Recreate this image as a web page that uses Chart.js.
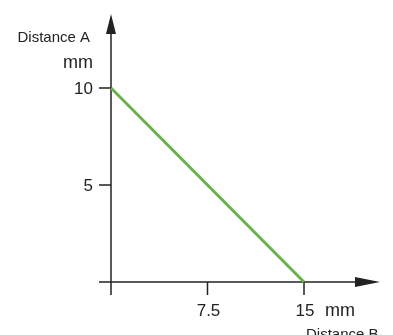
<!DOCTYPE html>
<html>
<head>
<meta charset="utf-8">
<script src="https://cdn.jsdelivr.net/npm/chart.js@4/dist/chart.umd.min.js"></script>
<style>
  html, body { margin: 0; padding: 0; background: #fff; }
  #wrap { width: 393px; height: 335px; }
</style>
</head>
<body>
<div id="wrap"><canvas id="chart"></canvas></div>
<script>
  // line data: Distance B (x) vs Distance A (y)
  const distB = [0, 15];
  const distA = [10, 0];
  const xTicks = [7.5, 15];
  const yTicks = [5, 10];
  const xTitle = `Distance B`;
  const yTitle = `Distance A`;
  const unit = `mm`;

  const axisColor = `#222`;
  const font = `"Liberation Sans", Arial, sans-serif`;

  // axes with arrows, ticks and labels, drawn on the chart's own scales
  const arrowAxes = {
    id: `arrowAxes`,
    beforeDatasetsDraw(chart) {
      const { ctx, scales } = chart;
      const x0 = scales.x.getPixelForValue(0);
      const y0 = scales.y.getPixelForValue(0);
      ctx.save();
      ctx.strokeStyle = axisColor;
      ctx.fillStyle = axisColor;
      ctx.lineWidth = 1.5;

      // y axis
      ctx.beginPath();
      ctx.moveTo(x0, y0 + 13);
      ctx.lineTo(x0, 30);
      ctx.stroke();
      ctx.beginPath();
      ctx.moveTo(x0, 14);
      ctx.lineTo(x0 - 5, 34);
      ctx.lineTo(x0 + 5, 34);
      ctx.closePath();
      ctx.fill();

      // x axis
      ctx.beginPath();
      ctx.moveTo(x0 - 12, y0);
      ctx.lineTo(360, y0);
      ctx.stroke();
      ctx.beginPath();
      ctx.moveTo(380, y0);
      ctx.lineTo(355, y0 - 5);
      ctx.lineTo(355, y0 + 5);
      ctx.closePath();
      ctx.fill();

      ctx.font = `17px ${font}`;
      ctx.textBaseline = `alphabetic`;

      // y ticks
      ctx.textAlign = `right`;
      yTicks.forEach((v) => {
        const py = scales.y.getPixelForValue(v);
        ctx.beginPath();
        ctx.moveTo(x0 - 12, py);
        ctx.lineTo(x0, py);
        ctx.stroke();
        ctx.fillText(String(v), x0 - 18, py + 6);
      });

      // x ticks
      ctx.textAlign = `center`;
      xTicks.forEach((v) => {
        const px = scales.x.getPixelForValue(v);
        ctx.beginPath();
        ctx.moveTo(px, y0);
        ctx.lineTo(px, y0 + 13);
        ctx.stroke();
        ctx.fillText(String(v), px + 1, y0 + 34);
      });

      // units
      ctx.font = `18px ${font}`;
      ctx.textAlign = `right`;
      ctx.fillText(unit, 93, 68);
      ctx.textAlign = `left`;
      ctx.fillText(unit, 325, y0 + 34);

      // titles
      ctx.font = `15px ${font}`;
      ctx.textAlign = `right`;
      ctx.fillText(yTitle, 90, 42);
      ctx.textAlign = `left`;
      ctx.fillText(xTitle, 306, y0 + 57);
      ctx.restore();
    },
  };

  new Chart(document.getElementById(`chart`), {
    type: `line`,
    data: {
      datasets: [
        {
          data: distB.map((x, i) => ({ x: x, y: distA[i] })),
          borderColor: `#6ab04c`,
          borderWidth: 3,
          pointRadius: 0,
          fill: false,
          clip: false,
          tension: 0,
        },
      ],
    },
    options: {
      responsive: true,
      maintainAspectRatio: false,
      animation: false,
      layout: { padding: { left: 111, right: 89, top: 88, bottom: 53 } },
      plugins: {
        legend: { display: false },
        tooltip: { enabled: false },
      },
      scales: {
        x: { type: `linear`, min: 0, max: 15, display: false },
        y: { type: `linear`, min: 0, max: 10, display: false },
      },
    },
    plugins: [arrowAxes],
  });
</script>
</body>
</html>
